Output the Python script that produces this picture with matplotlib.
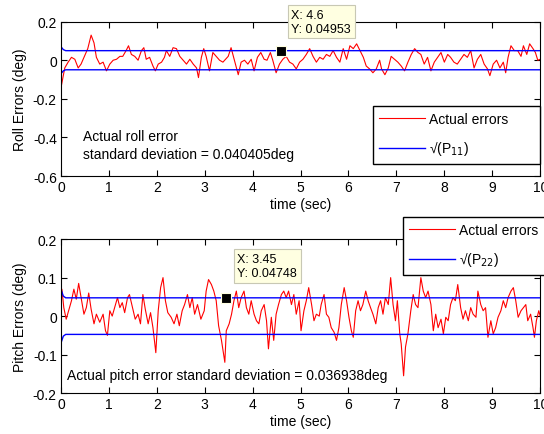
"""
Roll / pitch attitude errors against the filter's 1-sigma bound
"""

import matplotlib
matplotlib.use('Agg')
import matplotlib.pyplot as plt

plt.rcParams['font.family'] = ['Liberation Sans', 'DejaVu Sans']
plt.rcParams['font.size'] = 10

# roll error (deg)
roll_t = [0.0, 0.007, 0.08, 0.15, 0.22, 0.29, 0.36, 0.42, 0.49, 0.56, 0.63, 0.69, 0.74, 0.81,
          0.88, 0.95, 1.02, 1.09, 1.16, 1.23, 1.29, 1.36, 1.41, 1.47, 1.54, 1.61, 1.68, 1.73,
          1.78, 1.85, 1.92, 1.97, 2.03, 2.10, 2.16, 2.20, 2.27, 2.34, 2.41, 2.48, 2.55, 2.62,
          2.69, 2.76, 2.83, 2.87, 2.93, 2.98, 3.03, 3.10, 3.17, 3.24, 3.31, 3.38, 3.49, 3.55,
          3.62, 3.70, 3.76, 3.83, 3.90, 3.97, 4.03, 4.10, 4.17, 4.24, 4.30, 4.37, 4.42, 4.49,
          4.56, 4.63, 4.70, 4.77, 4.84, 4.91, 4.98, 5.05, 5.12, 5.19, 5.26, 5.33, 5.40, 5.47,
          5.54, 5.61, 5.68, 5.75, 5.82, 5.89, 5.96, 6.03, 6.10, 6.17, 6.24, 6.31, 6.37, 6.44,
          6.51, 6.58, 6.65, 6.69, 6.76, 6.83, 6.89, 6.96, 7.03, 7.10, 7.17, 7.24, 7.31, 7.38,
          7.45, 7.51, 7.58, 7.65, 7.72, 7.79, 7.86, 7.93, 8.00, 8.07, 8.13, 8.20, 8.27, 8.34,
          8.41, 8.48, 8.55, 8.62, 8.69, 8.76, 8.83, 8.90, 8.95, 9.02, 9.09, 9.16, 9.23, 9.28,
          9.33, 9.39, 9.46, 9.53, 9.60, 9.65, 9.72, 9.78, 9.85, 9.90, 9.95, 10.0]
roll_err = [-0.13, -0.135, -0.04, -0.01, 0.015, 0.005, -0.04, -0.02, 0.02, 0.06, 0.13, 0.09,
            0.015, -0.02, -0.01, -0.055, -0.02, 0.0, 0.005, 0.02, 0.02, 0.05, 0.075, 0.03,
            0.02, 0.0, 0.05, 0.065, 0.005, 0.015, -0.03, -0.055, -0.02, -0.01, 0.015, 0.05,
            0.02, 0.065, 0.06, 0.02, 0.0, -0.02, 0.005, -0.02, -0.04, -0.09, 0.015, 0.06,
            0.02, -0.055, 0.04, 0.02, 0.0, -0.01, 0.02, 0.065, 0.0, -0.075, -0.01, 0.0,
            -0.02, 0.005, -0.055, 0.015, 0.04, 0.005, 0.0, 0.04, 0.0, -0.065, -0.02, 0.005,
            0.02, -0.01, -0.02, -0.045, -0.01, 0.005, 0.03, 0.06, 0.02, -0.01, 0.015, 0.005,
            0.03, 0.02, 0.05, 0.015, -0.01, 0.06, 0.005, 0.075, 0.06, 0.085, 0.05, 0.015,
            -0.03, -0.045, -0.065, -0.045, 0.0, -0.045, -0.075, -0.04, 0.02, 0.005, -0.01,
            -0.03, -0.055, -0.01, 0.03, 0.06, 0.04, 0.03, -0.02, 0.015, -0.055, -0.01, 0.015,
            0.04, -0.01, 0.03, 0.015, -0.01, -0.02, 0.005, 0.03, 0.015, 0.05, -0.04, 0.005,
            0.03, -0.02, -0.045, -0.08, -0.02, 0.0, -0.04, -0.01, -0.065, 0.015, 0.075, 0.05,
            0.05, 0.02, 0.075, 0.03, 0.085, 0.06, 0.04, 0.0, 0.005]

# pitch error (deg)
pitch_t = [0.0, 0.02, 0.06, 0.11, 0.16, 0.22, 0.27, 0.32, 0.37, 0.42, 0.48, 0.53, 0.58, 0.63,
           0.69, 0.74, 0.81, 0.88, 0.93, 0.97, 1.02, 1.07, 1.12, 1.18, 1.23, 1.28, 1.33, 1.39,
           1.43, 1.50, 1.55, 1.61, 1.66, 1.71, 1.76, 1.82, 1.87, 1.92, 1.98, 2.03, 2.08, 2.13,
           2.18, 2.23, 2.30, 2.36, 2.42, 2.47, 2.53, 2.58, 2.64, 2.69, 2.74, 2.79, 2.85, 2.92,
           2.99, 3.03, 3.08, 3.14, 3.19, 3.24, 3.29, 3.35, 3.42, 3.45, 3.51, 3.56, 3.61, 3.66,
           3.71, 3.76, 3.82, 3.87, 3.92, 3.97, 4.03, 4.08, 4.13, 4.18, 4.24, 4.29, 4.33, 4.39,
           4.44, 4.49, 4.54, 4.60, 4.65, 4.70, 4.75, 4.81, 4.86, 4.91, 4.97, 5.01, 5.07, 5.12,
           5.17, 5.23, 5.28, 5.33, 5.39, 5.43, 5.49, 5.54, 5.59, 5.64, 5.70, 5.75, 5.80, 5.85,
           5.91, 5.96, 6.01, 6.06, 6.10, 6.15, 6.20, 6.25, 6.30, 6.36, 6.41, 6.46, 6.51, 6.57,
           6.62, 6.67, 6.72, 6.77, 6.83, 6.88, 6.93, 6.98, 7.02, 7.07, 7.10, 7.15, 7.19, 7.24,
           7.30, 7.35, 7.40, 7.45, 7.51, 7.56, 7.61, 7.66, 7.72, 7.77, 7.82, 7.87, 7.93, 7.98,
           8.03, 8.08, 8.13, 8.18, 8.23, 8.28, 8.34, 8.39, 8.44, 8.50, 8.55, 8.60, 8.66, 8.70,
           8.76, 8.81, 8.86, 8.91, 8.97, 9.02, 9.07, 9.12, 9.18, 9.23, 9.28, 9.33, 9.39, 9.44,
           9.49, 9.54, 9.60, 9.65, 9.70, 9.74, 9.80, 9.85, 9.88, 9.92, 9.97, 10.0]
pitch_err = [0.06, 0.07, 0.022, -0.008, 0.014, 0.04, 0.07, 0.044, 0.085, 0.048, 0.005, 0.022,
             0.06, 0.018, -0.02, 0.005, -0.016, 0.005, -0.038, -0.05, 0.014, 0.0, 0.022,
             0.048, 0.022, 0.035, 0.009, 0.048, 0.056, 0.018, -0.008, 0.005, -0.02, 0.056,
             0.018, -0.02, 0.009, -0.03, -0.095, 0.014, 0.074, 0.1, 0.04, 0.009, -0.003,
             -0.02, 0.005, -0.025, 0.014, 0.03, 0.056, 0.022, 0.048, 0.005, 0.03, -0.008,
             0.014, 0.065, 0.095, 0.082, 0.065, 0.04, -0.025, -0.063, -0.12, -0.038, -0.02,
             0.005, 0.04, 0.065, 0.022, 0.048, 0.065, 0.022, 0.005, 0.04, 0.005, -0.012,
             -0.02, 0.014, 0.03, -0.012, -0.085, -0.003, -0.063, 0.005, 0.03, 0.056, 0.065,
             0.048, 0.065, 0.03, 0.056, 0.005, 0.04, -0.038, 0.014, 0.04, 0.074, 0.03,
             -0.012, 0.005, 0.0, 0.03, 0.056, 0.005, -0.003, -0.03, -0.042, -0.063, -0.03,
             0.03, 0.074, 0.04, -0.003, -0.038, -0.055, 0.014, 0.04, 0.014, 0.03, 0.065, 0.04,
             0.022, 0.005, -0.02, 0.022, 0.04, 0.005, 0.048, 0.03, 0.1, 0.03, -0.012, 0.04,
             -0.046, -0.072, -0.155, -0.08, -0.046, 0.014, 0.056, 0.03, 0.022, 0.1, 0.065,
             0.048, 0.065, 0.03, -0.038, 0.005, -0.03, -0.008, -0.046, -0.003, -0.012, 0.03,
             0.048, 0.04, 0.082, 0.022, -0.008, 0.014, -0.012, 0.022, 0.005, -0.003, 0.065,
             0.03, 0.014, 0.022, -0.055, -0.012, -0.046, -0.03, -0.003, 0.014, 0.04, 0.022,
             0.048, 0.065, 0.074, 0.04, -0.003, 0.014, 0.022, 0.03, -0.012, 0.005, -0.03,
             -0.055, -0.012, 0.014, 0.0]

# sqrt of covariance diagonal
sig_t = [0.0, 0.05, 0.1, 10.0]
sig_roll = [0.07, 0.055, 0.0495, 0.0495]
sig_pitch = [0.07, 0.052, 0.0475, 0.0475]

fig = plt.figure(figsize=(5.44, 4.35), dpi=100)
ax1 = fig.add_axes([0.112, 0.593, 0.881, 0.355])
ax2 = fig.add_axes([0.112, 0.094, 0.881, 0.354])


def style(ax, yticks, ylabels):
    ax.set_xlim(0, 10)
    ax.set_xticks(range(11))
    ax.set_xticklabels([str(i) for i in range(11)])
    ax.set_yticks(yticks)
    ax.set_yticklabels(ylabels)
    ax.set_ylim(yticks[0], yticks[-1])
    ax.tick_params(direction='in', top=True, right=True, length=4, width=0.8, pad=3)
    for s in ax.spines.values():
        s.set_linewidth(0.8)
    ax.set_xlabel('time (sec)', labelpad=2)


def legend_box(ax, lines, labels, x0, y_top):
    # matlab-like legend: fixed width box, line then text
    ax.legend(lines, labels, loc='upper left', mode='expand',
              bbox_to_anchor=(x0 / 544, 1 - y_top / 435 - 0.2, 167 / 544, 0.2),
              bbox_transform=fig.transFigure, fancybox=False, edgecolor='black',
              framealpha=1, handlelength=3.3, handletextpad=0.25, labelspacing=0.95,
              borderpad=0.45, borderaxespad=0)


# roll
l1, = ax1.plot(roll_t, roll_err, color='red', lw=0.8)
l2, = ax1.plot(sig_t, sig_roll, color='blue', lw=1.0)
ax1.plot(sig_t, [-v for v in sig_roll], color='blue', lw=1.0)
style(ax1, [-0.6, -0.4, -0.2, 0, 0.2], ['-0.6', '-0.4', '-0.2', '0', '0.2'])
ax1.set_ylabel('Roll Errors (deg)', labelpad=4)
ax1.text(0.46, -0.44, 'Actual roll error\nstandard deviation = 0.040405deg',
         va='center', ha='left', linespacing=1.35)
legend_box(ax1, [l1, l2], ['Actual errors', '√(P$_{11}$)'], 373, 107)
ax1.plot([4.6], [0.04953], 's', color='black', ms=7, mec='#ffffe1', mew=0.8)
ax1.annotate('X: 4.6\nY: 0.04953', xy=(4.6, 0.04953), xytext=(10, 16),
             textcoords='offset pixels', fontsize=9, va='bottom', ha='left',
             bbox=dict(boxstyle='square,pad=0.3', fc='#ffffe1', ec='#c8c8b4', lw=0.8),
             annotation_clip=False)

# pitch
p1, = ax2.plot(pitch_t, pitch_err, color='red', lw=0.8)
p2, = ax2.plot(sig_t, sig_pitch, color='blue', lw=1.0)
ax2.plot(sig_t, [-v for v in sig_pitch], color='blue', lw=1.0)
style(ax2, [-0.2, -0.1, 0, 0.1, 0.2], ['-0.2', '-0.1', '0', '0.1', '0.2'])
ax2.set_ylabel('Pitch Errors (deg)', labelpad=4)
ax2.text(0.125, -0.153, 'Actual pitch error standard deviation = 0.036938deg',
         va='center', ha='left')
legend_box(ax2, [p1, p2], ['Actual errors', '√(P$_{22}$)'], 403, 218)
ax2.plot([3.45], [0.04748], 's', color='black', ms=7, mec='#ffffe1', mew=0.8)
ax2.annotate('X: 3.45\nY: 0.04748', xy=(3.45, 0.04748), xytext=(11, 19),
             textcoords='offset pixels', fontsize=9, va='bottom', ha='left',
             bbox=dict(boxstyle='square,pad=0.3', fc='#ffffe1', ec='#c8c8b4', lw=0.8),
             annotation_clip=False)

fig.savefig('out.png', dpi=100)
